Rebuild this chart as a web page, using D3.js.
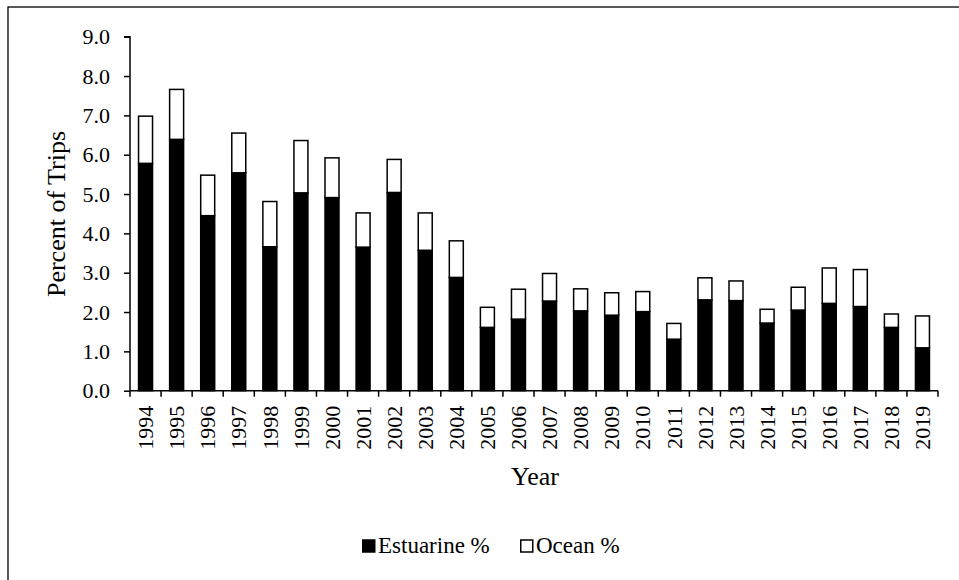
<!DOCTYPE html>
<html>
<head>
<meta charset="utf-8">
<script src="https://cdn.jsdelivr.net/npm/d3@7"></script>
<style>
  html, body { margin: 0; padding: 0; background: #fff; }
  svg { display: block; }
  svg text { font-family: "Liberation Serif", serif; }
</style>
</head>
<body>
<svg id="chart" width="959" height="580"></svg>
<script>
const years = ["1994","1995","1996","1997","1998","1999","2000","2001","2002","2003","2004","2005","2006","2007","2008","2009","2010","2011","2012","2013","2014","2015","2016","2017","2018","2019"];
const estuarine = [5.78, 6.39, 4.45, 5.54, 3.66, 5.03, 4.91, 3.65, 5.04, 3.57, 2.88, 1.61, 1.82, 2.28, 2.03, 1.92, 2.01, 1.31, 2.31, 2.29, 1.72, 2.05, 2.22, 2.14, 1.61, 1.09];
const ocean =     [1.20, 1.27, 1.03, 1.01, 1.15, 1.33, 1.01, 0.87, 0.84, 0.95, 0.93, 0.51, 0.76, 0.70, 0.56, 0.57, 0.51, 0.40, 0.56, 0.50, 0.35, 0.58, 0.90, 0.94, 0.34, 0.81];
const yTicks = [0, 1, 2, 3, 4, 5, 6, 7, 8, 9];
const seriesNames = ["Estuarine %", "Ocean %"];
const seriesFill = ["#000000", "#ffffff"];

const FONT = "Liberation Serif";
const svg = d3.select("#chart");
const plotLeft = 130, plotRight = 938, plotTop = 36.7, plotBottom = 390.7;

// outer frame
svg.append("rect").attr("x", 8).attr("y", 7).attr("width", 970).attr("height", 600)
  .attr("fill", "none").attr("stroke", "#000").attr("stroke-width", 1.3);

const x = d3.scaleBand().domain(years).range([plotLeft, plotRight]).paddingInner(0.55).paddingOuter(0.275);
const y = d3.scaleLinear().domain([0, 9]).range([plotBottom, plotTop]);

const rows = years.map((yr, i) => ({ year: yr, Estuarine: estuarine[i], Ocean: ocean[i] }));
const layers = d3.stack().keys(["Estuarine", "Ocean"])(rows);

const g = svg.append("g");
layers.forEach((layer, li) => {
  g.append("g").selectAll("rect").data(layer).join("rect")
    .attr("x", d => x(d.data.year))
    .attr("width", x.bandwidth())
    .attr("y", d => y(d[1]))
    .attr("height", d => y(d[0]) - y(d[1]))
    .attr("fill", seriesFill[li])
    .attr("stroke", "#000")
    .attr("stroke-width", 1.5);
});

// Y axis
const yAxis = svg.append("g").attr("transform", `translate(${plotLeft},0)`)
  .call(d3.axisLeft(y).tickValues(yTicks).tickFormat(d3.format(".1f")).tickSize(6).tickPadding(14));
yAxis.attr("font-family", FONT);
yAxis.select(".domain").attr("stroke", "#000").attr("stroke-width", 1.5).attr("d", `M-6,${plotTop}H0V${plotBottom}`);
yAxis.selectAll(".tick line").attr("stroke", "#000").attr("stroke-width", 1.5);
yAxis.selectAll("text").attr("font-size", 22).attr("fill", "#000").attr("font-family", FONT);

// X axis
const xAxis = svg.append("g").attr("transform", `translate(0,${plotBottom})`)
  .call(d3.axisBottom(x).tickSize(0).tickPadding(0));
xAxis.attr("font-family", FONT);
xAxis.select(".domain").attr("stroke", "#000").attr("stroke-width", 1.5).attr("d", `M${plotLeft},0H${plotRight}`);
xAxis.selectAll(".tick text")
  .attr("font-size", 22).attr("fill", "#000").attr("font-family", FONT)
  .attr("transform", "rotate(-90)")
  .attr("text-anchor", "end")
  .attr("x", -15).attr("y", 0).attr("dy", "0.35em");
// category boundary ticks
xAxis.append("g").selectAll("line").data(d3.range(years.length + 1)).join("line")
  .attr("x1", i => plotLeft + i * (plotRight - plotLeft) / years.length)
  .attr("x2", i => plotLeft + i * (plotRight - plotLeft) / years.length)
  .attr("y1", 0).attr("y2", 6)
  .attr("stroke", "#000").attr("stroke-width", 1.5);

// axis titles
svg.append("text").attr("x", 535).attr("y", 485).attr("text-anchor", "middle")
  .attr("font-family", FONT).attr("font-size", 26).attr("fill", "#000").text("Year");
svg.append("text").attr("transform", "translate(65,214) rotate(-90)").attr("text-anchor", "middle")
  .attr("font-family", FONT).attr("font-size", 26).attr("fill", "#000").text("Percent of Trips");

// legend
const legend = svg.append("g");
const legX = [362, 520];
seriesNames.forEach((name, i) => {
  legend.append("rect").attr("x", legX[i] + 0.75).attr("y", 540).attr("width", 12).attr("height", 12)
    .attr("fill", seriesFill[i]).attr("stroke", "#000").attr("stroke-width", 1.5);
  legend.append("text").attr("x", legX[i] + 16).attr("y", 553)
    .attr("font-family", FONT).attr("font-size", 23).attr("fill", "#000").text(name);
});
</script>
</body>
</html>
